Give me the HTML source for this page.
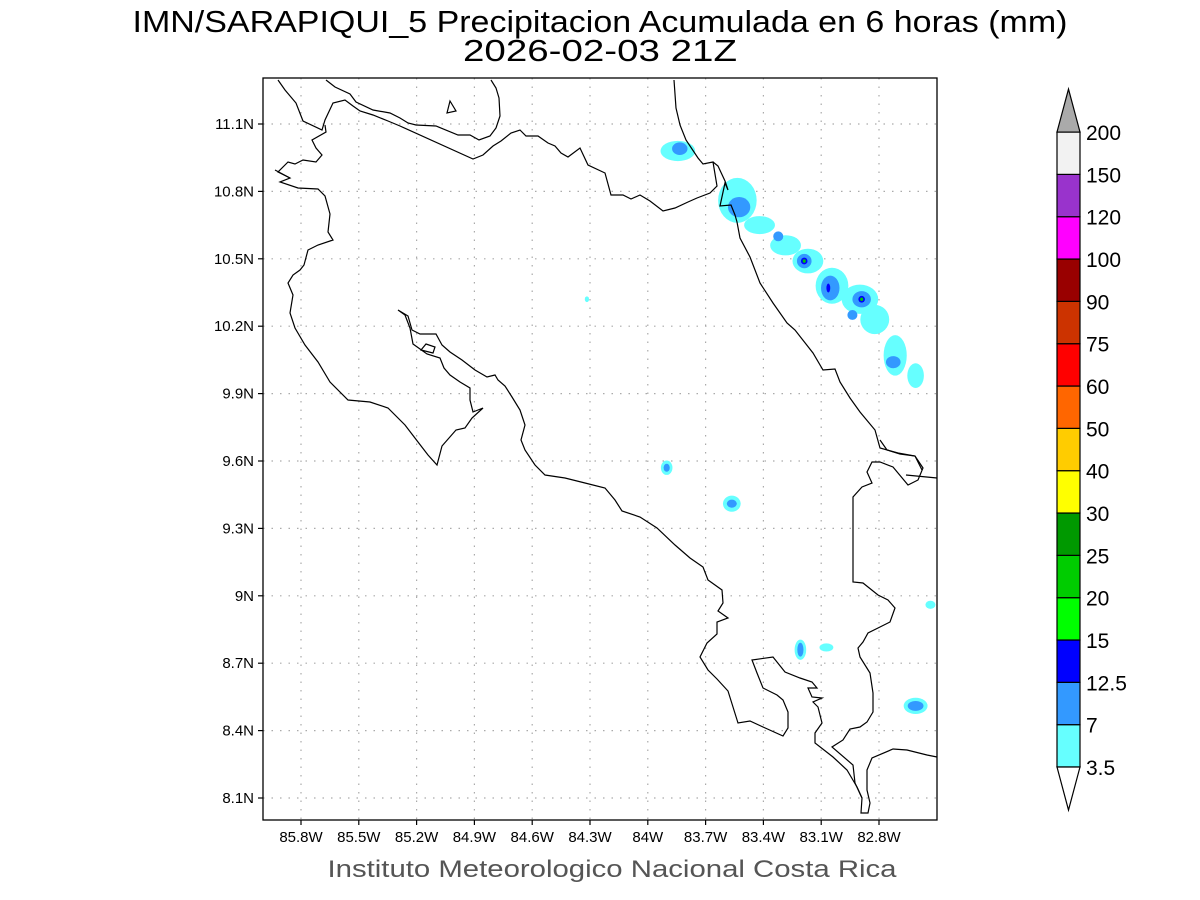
<!DOCTYPE html>
<html><head><meta charset="utf-8"><style>
html,body{margin:0;padding:0;background:#fff;}
svg{display:block;font-family:"Liberation Sans",sans-serif;}
</style></head><body>
<svg id="chart" width="1200" height="900" viewBox="0 0 1200 900" xmlns="http://www.w3.org/2000/svg">
<rect width="1200" height="900" fill="#fff"/>
<text x="600" y="32" text-anchor="middle" font-size="31" textLength="935" lengthAdjust="spacingAndGlyphs" fill="#000">IMN/SARAPIQUI_5 Precipitacion Acumulada en 6 horas (mm)</text>
<text x="600" y="61" text-anchor="middle" font-size="31" textLength="274" lengthAdjust="spacingAndGlyphs" fill="#000">2026-02-03 21Z</text>
<g id="grid"></g>
<g id="blobs"></g>
<g id="coast" fill="none" stroke="#000" stroke-width="1.2"></g>
<rect x="263" y="78" width="674" height="742" fill="none" stroke="#000" stroke-width="1.3"/>
<g id="axes"></g>
<g id="cbar"></g>
<text x="612" y="877" text-anchor="middle" font-size="24" textLength="569" lengthAdjust="spacingAndGlyphs" fill="#555">Instituto Meteorologico Nacional Costa Rica</text>
</svg>
<script>
const lonTicks=[-85.8,-85.5,-85.2,-84.9,-84.6,-84.3,-84.0,-83.7,-83.4,-83.1,-82.8];
const lonLabels=["85.8W","85.5W","85.2W","84.9W","84.6W","84.3W","84W","83.7W","83.4W","83.1W","82.8W"];
const latTicks=[11.1,10.8,10.5,10.2,9.9,9.6,9.3,9.0,8.7,8.4,8.1];
const latLabels=["11.1N","10.8N","10.5N","10.2N","9.9N","9.6N","9.3N","9N","8.7N","8.4N","8.1N"];
const levels=[3.5,7,12.5,15,20,25,30,40,50,60,75,90,100,120,150,200];
const levelColors=["#66ffff","#3399ff","#0000ff","#00ff00","#00cc00","#009900","#ffff00","#ffcc00","#ff6600","#ff0000","#cc3300","#990000","#ff00ff","#9933cc","#f2f2f2"];
// precipitation cells: center lon, lat, value (mm), spread in degrees
const cellLon=[-83.844,-83.834,-83.535,-83.420,-83.285,-83.169,-83.044,-82.899,-82.822,-82.716,-82.610,-83.526,-83.323,-83.188,-83.053,-82.890,-82.938,-82.726,-83.188,-82.890,-83.188,-82.890,-83.063,-83.902,-83.902,-83.564,-83.564,-83.208,-83.208,-83.073,-82.610,-82.610,-82.533,-84.316];
const cellLat=[10.98,10.99,10.76,10.65,10.56,10.49,10.38,10.32,10.23,10.07,9.98,10.73,10.60,10.49,10.37,10.32,10.25,10.04,10.49,10.32,10.49,10.32,10.37,9.57,9.57,9.41,9.41,8.76,8.76,8.77,8.51,8.51,8.96,10.32];
const cellVal=[5,9,5,5,5,5,5,5,5,5,5,9,9,9,9,9,9,9,14,14,22,22,14,5,9,5,9,5,9,5,5,9,5,5];
const cellRx=[0.09,0.04,0.10,0.08,0.08,0.08,0.085,0.095,0.075,0.06,0.043,0.058,0.026,0.038,0.048,0.048,0.026,0.038,0.017,0.017,0.008,0.008,0.01,0.03,0.016,0.046,0.026,0.03,0.016,0.036,0.062,0.041,0.026,0.011];
const cellRy=[0.045,0.028,0.10,0.04,0.045,0.055,0.08,0.065,0.065,0.09,0.055,0.045,0.022,0.032,0.055,0.036,0.022,0.027,0.015,0.015,0.008,0.008,0.02,0.032,0.018,0.036,0.018,0.045,0.031,0.018,0.036,0.022,0.018,0.013];

const X=lon=>301+(lon+85.8)/0.3*57.8;
const Y=lat=>798-(lat-8.1)/0.3*67.4;
const NS="http://www.w3.org/2000/svg";
function mk(tag,attrs,parent){const e=document.createElementNS(NS,tag);for(const k in attrs)e.setAttribute(k,attrs[k]);parent.appendChild(e);return e;}
function colorFor(v){let c=null;for(let i=0;i<levels.length-1;i++){if(v>=levels[i])c=levelColors[i];}return c;}

const grid=document.getElementById('grid'),axes=document.getElementById('axes');
lonTicks.forEach((lon,i)=>{const x=X(lon);
 const l=mk('line',{x1:x,y1:78,x2:x,y2:820,stroke:'#aaa','stroke-width':1.2,'stroke-dasharray':'1.5 7'},grid);
 
 const t=mk('line',{x1:x,y1:820,x2:x,y2:825,stroke:'#000','stroke-width':1.2},axes);
 
 const tx=mk('text',{x:x,y:842,'text-anchor':'middle','font-size':15,fill:'#000'},axes);tx.textContent=lonLabels[i];
 
});
latTicks.forEach((lat,i)=>{const y=Y(lat);
 const l=mk('line',{x1:263,y1:y,x2:937,y2:y,stroke:'#aaa','stroke-width':1.2,'stroke-dasharray':'1.5 7'},grid);
 
 const t=mk('line',{x1:258,y1:y,x2:263,y2:y,stroke:'#000','stroke-width':1.2},axes);
 
 const tx=mk('text',{x:254,y:y+5,'text-anchor':'end','font-size':15,fill:'#000'},axes);tx.textContent=latLabels[i];
 
});

const blobs=document.getElementById('blobs');
cellVal.forEach((v,i)=>{
 const e=mk('ellipse',{cx:X(cellLon[i]),cy:Y(cellLat[i]),rx:cellRx[i]*192.67,ry:cellRy[i]*224.7,fill:colorFor(v)},blobs);
 
});

const coastLines=[
"M 278 80 L 285 90 L 296 103 L 303 121 L 322 130 L 325 120 L 333 103 L 345 100 L 353 106 L 360 111 L 373 115 L 388 121 L 400 126 L 473 159 L 483 155 L 493 146 L 501 141 L 511 133 L 520 130 L 526 136 L 538 136 L 548 143 L 555 146 L 561 153 L 568 157 L 580 148 L 588 165 L 605 173 L 611 195 L 623 195 L 631 199 L 640 195 L 650 201 L 663 211 L 675 208 L 688 202 L 697 198 L 710 193 L 717 186 L 713 162 L 703 164 L 698 158 L 686 140 L 680 125 L 676 108 L 674 80",
"M 713 162 L 718 166 L 725 181 L 728 190 L 725 183 L 720 206 L 731 205 L 735 215 L 737 222 L 740 238 L 750 257 L 760 283 L 773 303 L 787 323 L 795 330 L 813 353 L 823 370 L 835 369 L 840 382 L 850 398 L 860 412 L 875 430 L 880 448 L 898 453 L 915 456 L 922 470",
"M 880 440 L 887 450 L 900 454 L 915 456 L 923 468 L 918 480 L 908 485 L 893 467 L 880 462 L 872 462 L 867 472 L 872 483 L 862 487 L 853 497 L 853 582 L 863 583 L 878 595 L 888 600 L 895 608 L 890 622 L 878 628 L 868 633 L 863 642 L 858 648 L 860 657 L 870 673 L 873 693 L 873 712 L 867 722 L 860 727 L 850 729 L 843 740 L 832 747 L 853 765 L 855 783 L 862 798 L 861 813 L 868 813 L 870 803 L 867 790 L 867 770 L 872 758 L 893 749 L 907 750 L 927 755 L 937 757",
"M 906 475 L 937 478",
"M 275 170 L 290 178 L 280 182 L 298 188 L 318 189 L 325 196 L 330 214 L 328 232 L 333 240 L 318 245 L 308 250 L 304 265 L 300 270 L 293 275 L 288 283 L 293 295 L 290 313 L 295 328 L 305 345 L 318 362 L 330 382 L 348 400 L 370 402 L 388 408 L 405 425 L 418 442 L 428 455 L 437 465 L 442 446 L 456 430 L 465 428 L 472 418 L 483 408 L 473 412 L 470 400 L 470 388 L 460 382 L 450 375 L 444 368 L 440 358 L 427 354 L 413 344 L 410 328 L 405 315 L 398 310 L 408 316 L 412 330 L 420 334 L 436 334 L 442 345 L 450 352 L 462 360 L 475 370 L 487 377 L 495 375 L 498 380 L 505 386 L 512 397 L 520 410 L 525 425 L 521 440 L 525 450 L 535 465 L 545 475 L 565 478 L 585 483 L 605 488 L 615 500 L 622 511 L 640 517 L 657 528 L 675 545 L 690 558 L 703 567 L 708 580 L 722 590 L 723 603 L 718 611 L 728 618 L 717 622 L 717 634 L 707 643 L 700 657 L 708 670 L 717 679 L 728 691 L 738 723 L 750 721 L 763 727 L 783 736 L 788 728 L 788 712 L 783 700 L 777 695 L 763 688 L 757 673 L 752 660 L 773 657 L 785 672 L 800 678 L 812 682 L 817 688 L 808 688 L 812 697 L 822 698 L 813 702 L 818 707 L 822 723 L 815 733 L 815 743 L 833 757 L 847 770 L 857 787 L 862 798",
"M 290 178 L 278 172 L 288 162 L 295 164 L 303 160 L 316 162 L 322 155 L 316 148 L 312 140 L 326 132 L 325 125",
"M 326 80 L 335 87 L 350 94 L 356 102 L 373 110 L 390 113 L 400 118 L 408 123 L 416 125 L 436 126 L 458 135 L 470 135 L 479 140 L 490 136 L 496 128 L 500 116 L 499 98 L 496 88 L 491 80",
"M 450 101 L 456 111 L 447 113 Z",
"M 421 350 L 426 344 L 435 347 L 433 353 Z"
];
const coast=document.getElementById('coast');
coastLines.forEach(d=>{const p=mk('path',{d:d},coast);});

// colorbar
const cb=document.getElementById('cbar');
const cbX=1057,cbW=23,y0=767,step=42.33;
const LY=i=>y0-i*step;
for(let i=0;i<levelColors.length;i++){
 const r=mk('rect',{x:cbX,y:LY(i+1),width:cbW,height:step,fill:levelColors[i],stroke:'#000','stroke-width':1.2},cb);
 
}
const tb=mk('polygon',{points:`${cbX},${y0} ${cbX+cbW},${y0} ${cbX+cbW/2},${y0+43}`,fill:'#fff',stroke:'#000','stroke-width':1.2},cb);

const tt=mk('polygon',{points:`${cbX},${LY(15)} ${cbX+cbW},${LY(15)} ${cbX+cbW/2},${LY(15)-43}`,fill:'#aaa',stroke:'#000','stroke-width':1.2},cb);

levels.forEach((v,i)=>{
 const t=mk('text',{x:1086,y:LY(i)+8,'font-size':21,fill:'#000'},cb);t.textContent=String(v);
 
});
</script>
</body></html>
